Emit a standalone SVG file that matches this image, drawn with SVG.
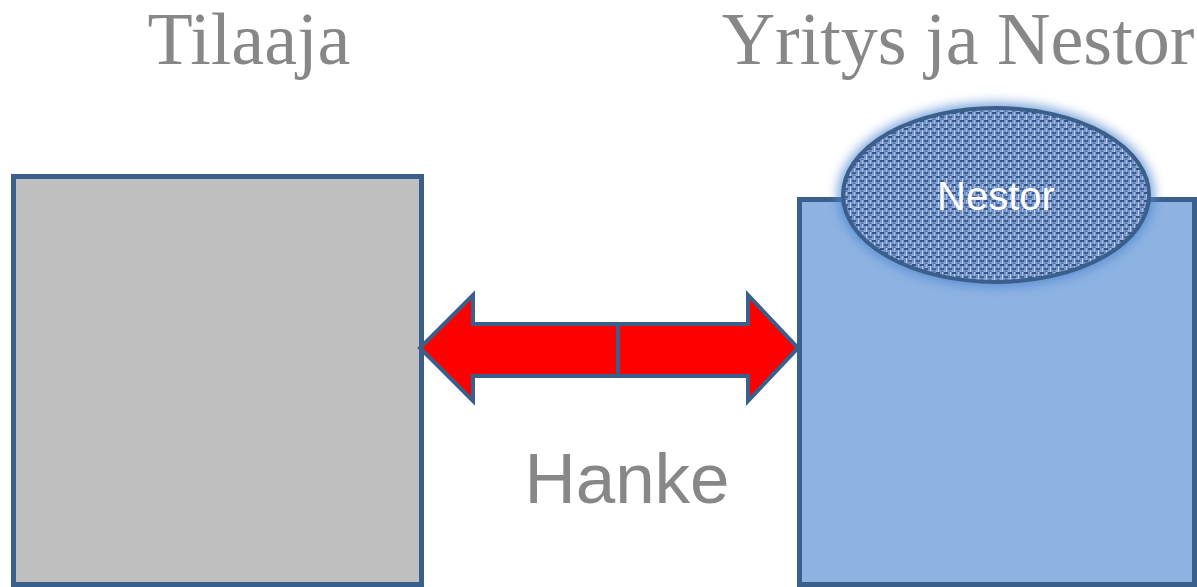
<svg xmlns="http://www.w3.org/2000/svg" width="1197" height="587" viewBox="0 0 1197 587">
<style>
.title{font-family:"Liberation Serif","Times New Roman",serif;font-size:74px;fill:#878787}
.box{stroke:#3a5f8a;stroke-width:5}
.arrow{fill:#ff0000;stroke:#3a5f8a;stroke-width:4;stroke-linejoin:miter}
</style>
<defs>
<pattern id="weave" width="8" height="8" patternUnits="userSpaceOnUse">
<rect width="8" height="8" fill="#7493c6"/>
<rect x="0" y="0" width="4" height="2" fill="#35558a"/>
<rect x="4" y="4" width="4" height="2" fill="#3f619a"/>
<rect x="2" y="2" width="1" height="6" fill="#b9cbec"/>
<rect x="6" y="0" width="1" height="4" fill="#a8bee5"/>
<rect x="0" y="6" width="2" height="2" fill="#93acd8"/>
<rect x="5" y="7" width="2" height="1" fill="#5676ad"/>
</pattern>
<filter id="glow" x="-20%" y="-30%" width="140%" height="160%">
<feGaussianBlur stdDeviation="6"/>
</filter>
</defs>
<rect width="1197" height="587" fill="#ffffff"/>
<text class="title" x="249" y="64" text-anchor="middle">Tilaaja</text>
<text class="title" x="958" y="64" text-anchor="middle">Yritys ja Nestor</text>
<g id="tilaaja">
<rect class="box" x="13.5" y="176.5" width="408" height="408" fill="#bfbfbf"/>
</g>
<g id="yritys">
<rect class="box" x="799.5" y="199.5" width="395" height="385" fill="#8eb3e3"/>
</g>
<g id="nestor">
<ellipse cx="996" cy="195" rx="158" ry="92" fill="#4f86d0" opacity="0.8" filter="url(#glow)"/>
<ellipse cx="996" cy="195" rx="153" ry="87" fill="url(#weave)" stroke="#3a5f8a" stroke-width="4"/>
<text x="996" y="210" text-anchor="middle" font-family="'Liberation Sans',Arial,sans-serif" font-size="40" fill="#ffffff">Nestor</text>
</g>
<g id="connectors">
<path class="arrow" d="M420 348 L473 295 L473 324 L748 324 L748 295 L798 348 L748 401 L748 376 L473 376 L473 401 Z"/>
<line x1="618" y1="324" x2="618" y2="376" stroke="#3a5f8a" stroke-width="4"/>
</g>
<text x="627" y="503" text-anchor="middle" font-family="'Liberation Sans',Arial,sans-serif" font-size="71" fill="#878787">Hanke</text>
</svg>
